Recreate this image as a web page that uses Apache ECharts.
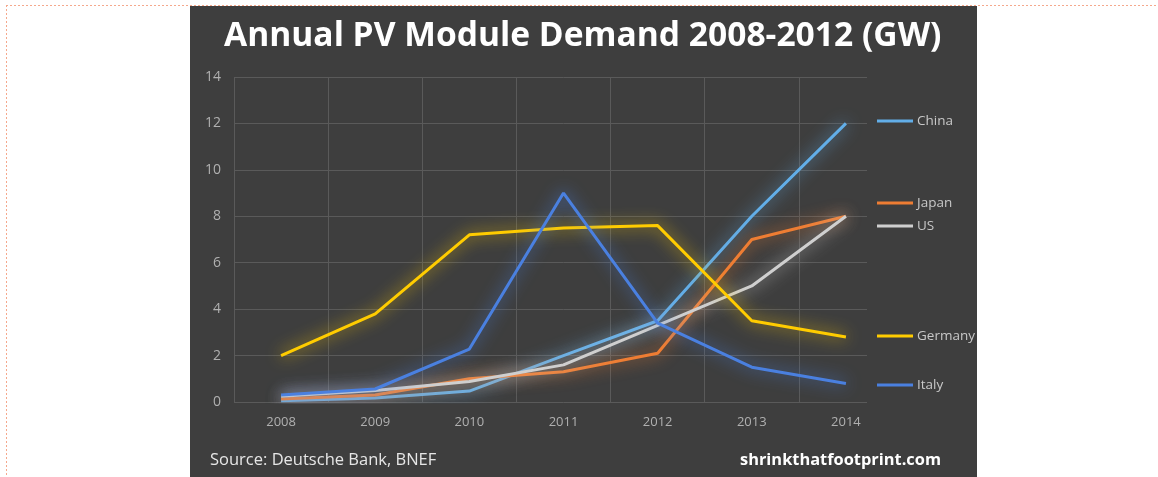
<!DOCTYPE html>
<html>
<head>
<meta charset="utf-8">
<script src="https://cdn.jsdelivr.net/npm/echarts@6/dist/echarts.min.js"></script>
<style>
  html, body { margin: 0; padding: 0; background: #fff; }
  #chart { width: 1158px; height: 477px; }
</style>
</head>
<body>
<div id="chart"></div>
<script>
// values (GW)
const years = ["2008", "2009", "2010", "2011", "2012", "2013", "2014"];
const china = [0.05, 0.17, 0.47, 2.0, 3.5, 8.0, 12.0];
const japan = [0.13, 0.3, 1.0, 1.3, 2.1, 7.0, 8.0];
const us = [0.25, 0.5, 0.88, 1.6, 3.3, 5.0, 8.0];
const germany = [2.0, 3.8, 7.2, 7.5, 7.6, 3.5, 2.8];
const italy = [0.3, 0.56, 2.28, 9.0, 3.4, 1.5, 0.8];
const yTicks = [0, 2, 4, 6, 8, 10, 12, 14];

const names = ["China", "Japan", "US", "Germany", "Italy"];
const colors = ["#62aee8", "#ee7d33", "#cfcfcf", "#ffcc00", "#4a80e0"];
const values = [china, japan, us, germany, italy];
// legend text centres (px), Excel spread them out a bit
const legendY = [121, 203, 226, 336, 385];

const panel = "#3e3e3e";
const font = "Open Sans";

let chart = echarts.init(document.getElementById("chart"));

chart.setOption({
  backgroundColor: "#ffffff",
  animation: false,
  textStyle: { fontFamily: font },
  grid: { left: 234, top: 77, right: 265, bottom: 75 },
  xAxis: {
    type: "category",
    data: years,
    boundaryGap: true,
    axisLine: { show: false },
    axisTick: { show: false },
    axisLabel: { color: "#b0b0b0", fontSize: 13, margin: 14, fontFamily: font },
    splitLine: { show: true, lineStyle: { color: "#5a5a5a", width: 1 } }
  },
  yAxis: {
    type: "value",
    min: yTicks[0],
    max: yTicks[yTicks.length - 1],
    interval: 2,
    axisLine: { show: false },
    axisTick: { show: false },
    axisLabel: { color: "#b0b0b0", fontSize: 14, margin: 13, fontFamily: font },
    splitLine: { lineStyle: { color: "#5a5a5a", width: 1 } }
  },
  legend: names.map(function(n, i) {
    return {
      data: [n],
      left: 877,
      top: legendY[i] - 7,
      padding: 0,
      icon: "rect",
      itemWidth: 36,
      itemHeight: 3,
      itemGap: 4,
      textStyle: { color: "#c8c8c8", fontSize: 13.5, fontFamily: font, padding: [0, 0, 0, -1] }
    };
  }),
  graphic: [
    // dotted page border
    {
      type: "line", z: -20,
      shape: { x1: 6, y1: 5.5, x2: 1158, y2: 5.5 },
      style: { stroke: "#f5a88c", lineWidth: 1, lineDash: [2, 2] }
    },
    {
      type: "line", z: -20,
      shape: { x1: 6.5, y1: 5, x2: 6.5, y2: 477 },
      style: { stroke: "#f5a88c", lineWidth: 1, lineDash: [2, 2] }
    },
    // dark slide panel
    {
      type: "rect", z: -10,
      shape: { x: 190, y: 6, width: 787, height: 471 },
      style: { fill: panel }
    },
    // the plot area is clipped short on the right in the original
    {
      type: "rect", z: 1,
      shape: { x: 867, y: 70, width: 40, height: 340 },
      style: { fill: panel }
    },
    {
      type: "text", z: 5,
      left: 224, top: 19,
      style: {
        text: "Annual PV Module Demand 2008-2012 (GW)",
        fill: "#ffffff",
        font: "bold 33.6px 'Open Sans'"
      }
    },
    {
      type: "text", z: 5,
      left: 210, top: 452,
      style: {
        text: "Source: Deutsche Bank, BNEF",
        fill: "#e6e6e6",
        font: "16.5px 'Open Sans'"
      }
    },
    {
      type: "text", z: 5,
      left: 740, top: 452,
      style: {
        text: "shrinkthatfootprint.com",
        fill: "#ffffff",
        font: "bold 16.4px 'Open Sans'"
      }
    }
  ],
  series: names.map(function(n, i) {
    return {
      name: n,
      type: "line",
      data: values[i],
      color: colors[i],
      showSymbol: false,
      symbol: "none",
      z: 2 + i,
      lineStyle: {
        width: 3,
        color: colors[i],
        shadowColor: colors[i],
        shadowBlur: 16
      }
    };
  })
});
</script>
</body>
</html>
